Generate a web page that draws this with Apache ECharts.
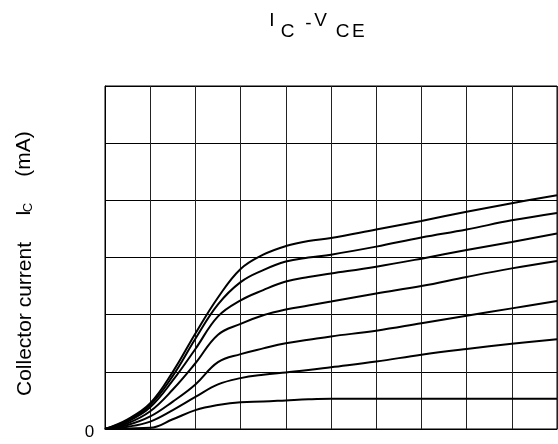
<!DOCTYPE html>
<html>
<head>
<meta charset="utf-8">
<style>html,body{margin:0;padding:0;background:#fff;}#c{width:558px;height:444px;}</style>
<script src="https://cdn.jsdelivr.net/npm/echarts@6/dist/echarts.min.js"></script>
</head>
<body>
<div id="c"></div>
<script>
// x: V_CE grid units (0-10), y: I_C grid units (0-6)
var xs = [0, 0.5, 1, 1.5, 2, 2.5, 3, 3.5, 4, 4.5, 5, 6, 7, 8, 9, 10];
var curve1 = [0, 0.17, 0.45, 1.00, 1.67, 2.30, 2.80, 3.05, 3.20, 3.29, 3.34, 3.49, 3.64, 3.80, 3.95, 4.09];
var curve2 = [0, 0.15, 0.42, 0.93, 1.58, 2.18, 2.57, 2.78, 2.93, 3.00, 3.05, 3.19, 3.35, 3.49, 3.65, 3.78];
var curve3 = [0, 0.13, 0.38, 0.85, 1.40, 1.97, 2.25, 2.43, 2.58, 2.66, 2.72, 2.84, 2.98, 3.13, 3.27, 3.42];
var curve4 = [0, 0.10, 0.31, 0.69, 1.15, 1.65, 1.84, 1.99, 2.09, 2.16, 2.23, 2.37, 2.50, 2.66, 2.81, 2.94];
var curve5 = [0, 0.07, 0.22, 0.48, 0.78, 1.17, 1.31, 1.41, 1.50, 1.56, 1.62, 1.72, 1.85, 1.98, 2.11, 2.24];
var curve6 = [0, 0.04, 0.13, 0.33, 0.56, 0.78, 0.89, 0.95, 0.99, 1.03, 1.08, 1.18, 1.30, 1.40, 1.49, 1.57];
var curve7 = [0, 0.01, 0.02, 0.17, 0.33, 0.42, 0.47, 0.48, 0.50, 0.52, 0.53, 0.53, 0.53, 0.53, 0.53, 0.53];
var curves = [curve1, curve2, curve3, curve4, curve5, curve6, curve7];
var originLabel = '0';

var FONT = 'Liberation Sans';
function pts(c) { return xs.map(function (x, i) { return [x, c[i]]; }); }

var chart = echarts.init(document.getElementById('c'), null, { renderer: 'canvas' });
function txt(x, y, s, size, rot) {
  return {
    type: 'text', x: x, y: y, rotation: rot || 0,
    style: { text: s, fill: '#000', fontSize: size, fontFamily: FONT, align: 'center', verticalAlign: 'middle' }
  };
}
chart.setOption({
  animation: false,
  backgroundColor: '#fff',
  grid: { left: 105, top: 86, width: 452, height: 343, show: true, borderColor: '#000', borderWidth: 1 },
  xAxis: {
    type: 'value', min: 0, max: 10, interval: 1,
    axisLine: { show: true, lineStyle: { color: '#000', width: 1 } },
    axisTick: { show: false }, axisLabel: { show: false },
    splitLine: { show: true, lineStyle: { color: '#222', width: 1 } }
  },
  yAxis: {
    type: 'value', min: 0, max: 6, interval: 1,
    axisLine: { show: true, lineStyle: { color: '#000', width: 1 } },
    axisTick: { show: false }, axisLabel: { show: false },
    splitLine: { show: true, lineStyle: { color: '#000', width: 1 } }
  },
  series: curves.map(function (c) {
    return {
      type: 'line', data: pts(c), showSymbol: false, symbol: 'none',
      smooth: 0.4,
      lineStyle: { color: '#000', width: 2 }
    };
  }),
  graphic: [
    txt(272, 20.5, 'I', 19),
    txt(287.5, 31.5, 'C', 19),
    txt(308.3, 23.6, '-', 19),
    txt(320.5, 20.5, 'V', 19),
    txt(342.5, 31.5, 'C', 19),
    txt(358.3, 31.5, 'E', 19),
    txt(25, 319, 'Collector current', 21, Math.PI / 2),
    txt(24, 213, 'I', 21, Math.PI / 2),
    txt(28, 207.5, 'C', 13, Math.PI / 2),
    txt(24.5, 154, '(mA)', 21, Math.PI / 2),
    txt(89.5, 432, originLabel, 17)
  ]
});
</script>
</body>
</html>
